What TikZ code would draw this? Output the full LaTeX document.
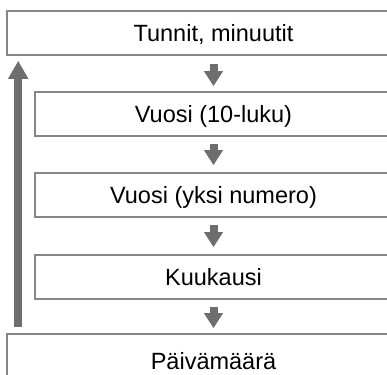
\documentclass[tikz,border=0pt]{standalone}
\usepackage{fontspec}
\setmainfont{Liberation Sans}
\usetikzlibrary{arrows.meta}
\definecolor{boxline}{RGB}{135,135,135}
\definecolor{arrowgray}{RGB}{110,110,110}
\begin{document}
\begin{tikzpicture}[x=1pt,y=1pt,
  stepbox/.style={draw=boxline, line width=1.6pt, fill=white, inner sep=0pt,
    text height=17pt, text depth=0pt, font=\fontsize{23.5}{28}\selectfont},
  outerbox/.style={stepbox, minimum width=413pt},
  innerbox/.style={stepbox, minimum width=357pt},
  flow/.style={draw=arrowgray, line width=8pt, -{Triangle[width=18pt,length=15pt]}, color=arrowgray},
  back/.style={draw=arrowgray, line width=8pt, -{Triangle[width=19pt,length=18pt]}, color=arrowgray}]
\useasboundingbox (0,0) rectangle (387,374);
\clip (0,0) rectangle (387,374);
\node[outerbox, minimum height=44pt] (top) at (213.5,341) {Tunnit, minuutit};
\node[innerbox, minimum height=44pt] (dec) at (213.5,260) {Vuosi (10-luku)};
\node[innerbox, minimum height=44pt] (one) at (213.5,179) {Vuosi (yksi numero)};
\node[innerbox, minimum height=44pt] (mon) at (213.5,97) {Kuukausi};
\node[outerbox, minimum height=54pt] (day) at (213.5,13) {Päivämäärä};
\draw[flow] ([yshift=-8pt]top.south) -- ([yshift=5pt]dec.north);
\draw[flow] ([yshift=-7pt]dec.south) -- ([yshift=7pt]one.north);
\draw[flow] ([yshift=-7pt]one.south) -- ([yshift=7pt]mon.north);
\draw[flow] ([yshift=-7pt]mon.south) -- ([yshift=5pt]day.north);
\draw[back] ([shift={(12pt,6pt)}]day.north west) -- ([shift={(12pt,-5pt)}]top.south west);
\end{tikzpicture}
\end{document}
